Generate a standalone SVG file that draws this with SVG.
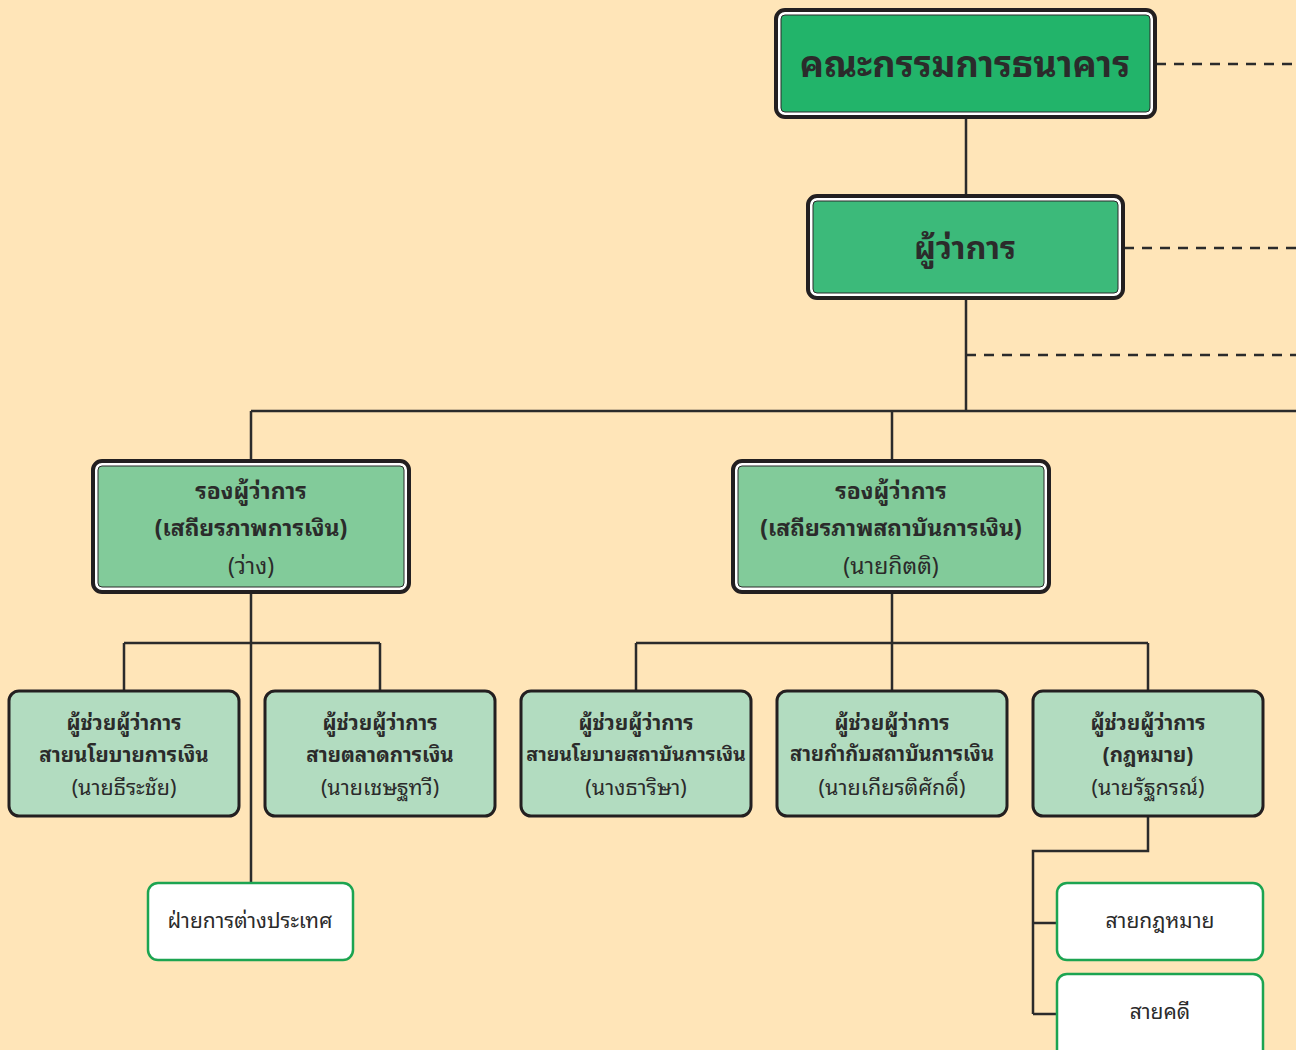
<svg xmlns="http://www.w3.org/2000/svg" width="1296" height="1050" viewBox="0 0 1296 1050">
<style>
text{font-family:"Noto Sans Thai Looped","Noto Serif Thai","Noto Sans Thai","Noto Sans","DejaVu Sans",sans-serif;fill:#2b2b2b;text-anchor:middle;dominant-baseline:central}
.b{font-weight:bold}
.ln{stroke:#2b2b2b;stroke-width:2.5;fill:none}
.dash{stroke:#2b2b2b;stroke-width:2.5;fill:none;stroke-dasharray:10 8}
.outer{fill:#fff;stroke:#231f20;stroke-width:4}
.asst{fill:#b2dcc0;stroke:#231f20;stroke-width:3}
.unit{fill:#fff;stroke:#1ca451;stroke-width:2.5}
</style>
<rect x="0" y="0" width="1296" height="1050" fill="#ffe5b8"/>
<g id="connectors">
<path class="dash" d="M1156 64H1296M1124 248H1296M966 355H1296"/>
<path class="ln" d="M966 118V196M966 298V411M251 411H1296M251 411V460M892 411V460"/>
<path class="ln" d="M251 592V883M124 643H380M124 643V691M380 643V691"/>
<path class="ln" d="M892 592V691M636 643H1148M636 643V691M1148 643V691"/>
<path class="ln" d="M1148 816V851H1033V1014M1033 923H1057M1033 1014H1057"/>
</g>
<g id="board">
<rect class="outer" x="776" y="10" width="379" height="107" rx="9"/>
<rect x="781" y="15" width="369" height="97" rx="4" fill="#22b46a" stroke="#2b2b2b" stroke-width="1"/>
<text class="b" x="965" y="61" font-size="36">คณะกรรมการธนาคาร</text>
</g>
<g id="governor">
<rect class="outer" x="808" y="196" width="315" height="102" rx="9"/>
<rect x="813" y="201" width="305" height="92" rx="4" fill="#3cba7a" stroke="#2b2b2b" stroke-width="1"/>
<text class="b" x="965" y="244" font-size="32">ผู้ว่าการ</text>
</g>
<g id="deputy1">
<rect class="outer" x="93" y="461" width="316" height="131" rx="9"/>
<rect x="98" y="466" width="306" height="121" rx="4" fill="#82cb9a" stroke="#2b2b2b" stroke-width="1"/>
<text class="b" x="251" y="488" font-size="23">รองผู้ว่าการ</text>
<text class="b" x="251" y="525" font-size="23">(เสถียรภาพการเงิน)</text>
<text x="251" y="563" font-size="23">(ว่าง)</text>
</g>
<g id="deputy2">
<rect class="outer" x="733" y="461" width="316" height="131" rx="9"/>
<rect x="738" y="466" width="306" height="121" rx="4" fill="#82cb9a" stroke="#2b2b2b" stroke-width="1"/>
<text class="b" x="891" y="488" font-size="23">รองผู้ว่าการ</text>
<text class="b" x="891" y="525" font-size="23">(เสถียรภาพสถาบันการเงิน)</text>
<text x="891" y="563" font-size="23">(นายกิตติ)</text>
</g>
<g id="asst1">
<rect class="asst" x="9" y="691" width="230" height="125" rx="10"/>
<text class="b" x="124" y="720" font-size="20.5">ผู้ช่วยผู้ว่าการ</text>
<text class="b" x="124" y="752" font-size="20.5">สายนโยบายการเงิน</text>
<text x="124" y="785" font-size="21.5">(นายธีระชัย)</text>
</g>
<g id="asst2">
<rect class="asst" x="265" y="691" width="230" height="125" rx="10"/>
<text class="b" x="380" y="720" font-size="20.5">ผู้ช่วยผู้ว่าการ</text>
<text class="b" x="380" y="752" font-size="20.5">สายตลาดการเงิน</text>
<text x="380" y="785" font-size="21.5">(นายเชษฐทวี)</text>
</g>
<g id="asst3">
<rect class="asst" x="521" y="691" width="230" height="125" rx="10"/>
<text class="b" x="636" y="720" font-size="20.5">ผู้ช่วยผู้ว่าการ</text>
<text class="b" x="636" y="752" font-size="19.5">สายนโยบายสถาบันการเงิน</text>
<text x="636" y="785" font-size="21.5">(นางธาริษา)</text>
</g>
<g id="asst4">
<rect class="asst" x="777" y="691" width="230" height="125" rx="10"/>
<text class="b" x="892" y="720" font-size="20.5">ผู้ช่วยผู้ว่าการ</text>
<text class="b" x="892" y="752" font-size="20">สายกำกับสถาบันการเงิน</text>
<text x="892" y="785" font-size="21.5">(นายเกียรติศักดิ์)</text>
</g>
<g id="asst5">
<rect class="asst" x="1033" y="691" width="230" height="125" rx="10"/>
<text class="b" x="1148" y="720" font-size="20.5">ผู้ช่วยผู้ว่าการ</text>
<text class="b" x="1148" y="752" font-size="20.5">(กฎหมาย)</text>
<text x="1148" y="785" font-size="21.5">(นายรัฐกรณ์)</text>
</g>
<g id="foreign">
<rect class="unit" x="148" y="883" width="205" height="77" rx="10"/>
<text x="250" y="918" font-size="21">ฝ่ายการต่างประเทศ</text>
</g>
<g id="legal">
<rect class="unit" x="1057" y="883" width="206" height="77" rx="10"/>
<text x="1160" y="918" font-size="21">สายกฎหมาย</text>
</g>
<g id="litigation">
<rect class="unit" x="1057" y="974" width="206" height="90" rx="10"/>
<text x="1160" y="1009" font-size="21">สายคดี</text>
</g>
</svg>
